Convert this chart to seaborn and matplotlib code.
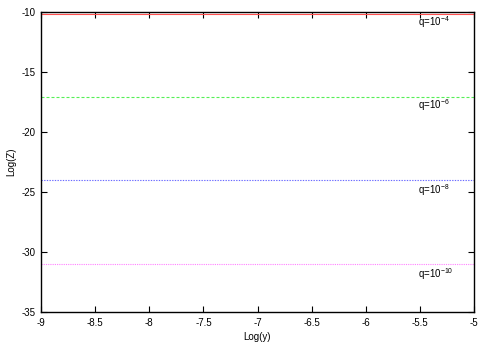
import numpy as np
import pandas as pd
import matplotlib
matplotlib.use("Agg")
import matplotlib.pyplot as plt
import seaborn as sns

# Data
log_y = [-9.0, -8.0, -7.0, -6.0, -5.0]
logz_q4 = [-10.17, -10.17, -10.17, -10.17, -10.17]
logz_q6 = [-17.08, -17.08, -17.08, -17.08, -17.08]
logz_q8 = [-24.0, -24.0, -24.0, -24.0, -24.0]
logz_q10 = [-31.0, -31.0, -31.0, -31.0, -31.0]
series_names = ["q4", "q6", "q8", "q10"]
labels = [r"q=10$^{-4}$", r"q=10$^{-6}$", r"q=10$^{-8}$", r"q=10$^{-10}$"]
label_y = [-10.85, -17.78, -24.85, -31.85]
x_ticks = [-9, -8.5, -8, -7.5, -7, -6.5, -6, -5.5, -5]
x_tick_labels = ["-9", "-8.5", "-8", "-7.5", "-7", "-6.5", "-6", "-5.5", "-5"]
y_ticks = [-35, -30, -25, -20, -15, -10]

sns.set_style("white")
plt.rcParams['font.family'] = ['Liberation Sans', 'DejaVu Sans']
plt.rcParams['mathtext.fontset'] = 'custom'
plt.rcParams['mathtext.rm'] = 'Liberation Sans'
plt.rcParams['mathtext.it'] = 'Liberation Sans'
plt.rcParams['text.color'] = 'black'
plt.rcParams['axes.labelcolor'] = 'black'
plt.rcParams['xtick.color'] = 'black'
plt.rcParams['ytick.color'] = 'black'

df = pd.concat([
    pd.DataFrame({"x": log_y, "z": vals, "s": name})
    for name, vals in zip(series_names, [logz_q4, logz_q6, logz_q8, logz_q10])
])

fig = plt.figure(figsize=(4.91, 3.43), dpi=100)
ax = fig.add_axes([41/491, 1 - 312/343, (474-41)/491, (312-12)/343])

palette = {"q4": "#ff5050", "q6": "#55f055", "q8": "#6a6aff", "q10": "#ff80ff"}
dashes = {"q4": "", "q6": (2.7, 1.8), "q8": (1.2, 1.2), "q10": (1, 1)}
sns.lineplot(data=df, x="x", y="z", hue="s", style="s", palette=palette,
             dashes=dashes, ax=ax, legend=False, linewidth=0.8)

for lab, yy in zip(labels, label_y):
    ax.text(-5.52, yy, lab, fontsize=7, ha="left", va="center", color="black")

ax.set_xlim(-9, -5)
ax.set_ylim(-35, -10)
ax.set_xticks(x_ticks)
ax.set_xticklabels(x_tick_labels)
ax.set_yticks(y_ticks)
ax.set_yticklabels([str(t) for t in y_ticks])
ax.tick_params(direction="in", length=4, width=0.8, labelsize=7,
               top=True, right=True, bottom=True, left=True, pad=4,
               colors="black")
ax.set_xlabel("Log(y)", fontsize=7, labelpad=3)
ax.set_ylabel("Log(Z)", fontsize=7, labelpad=4)
for sp in ax.spines.values():
    sp.set_visible(True)
    sp.set_color("black")
    sp.set_linewidth(1.0)

fig.savefig("out.png", dpi=100)
